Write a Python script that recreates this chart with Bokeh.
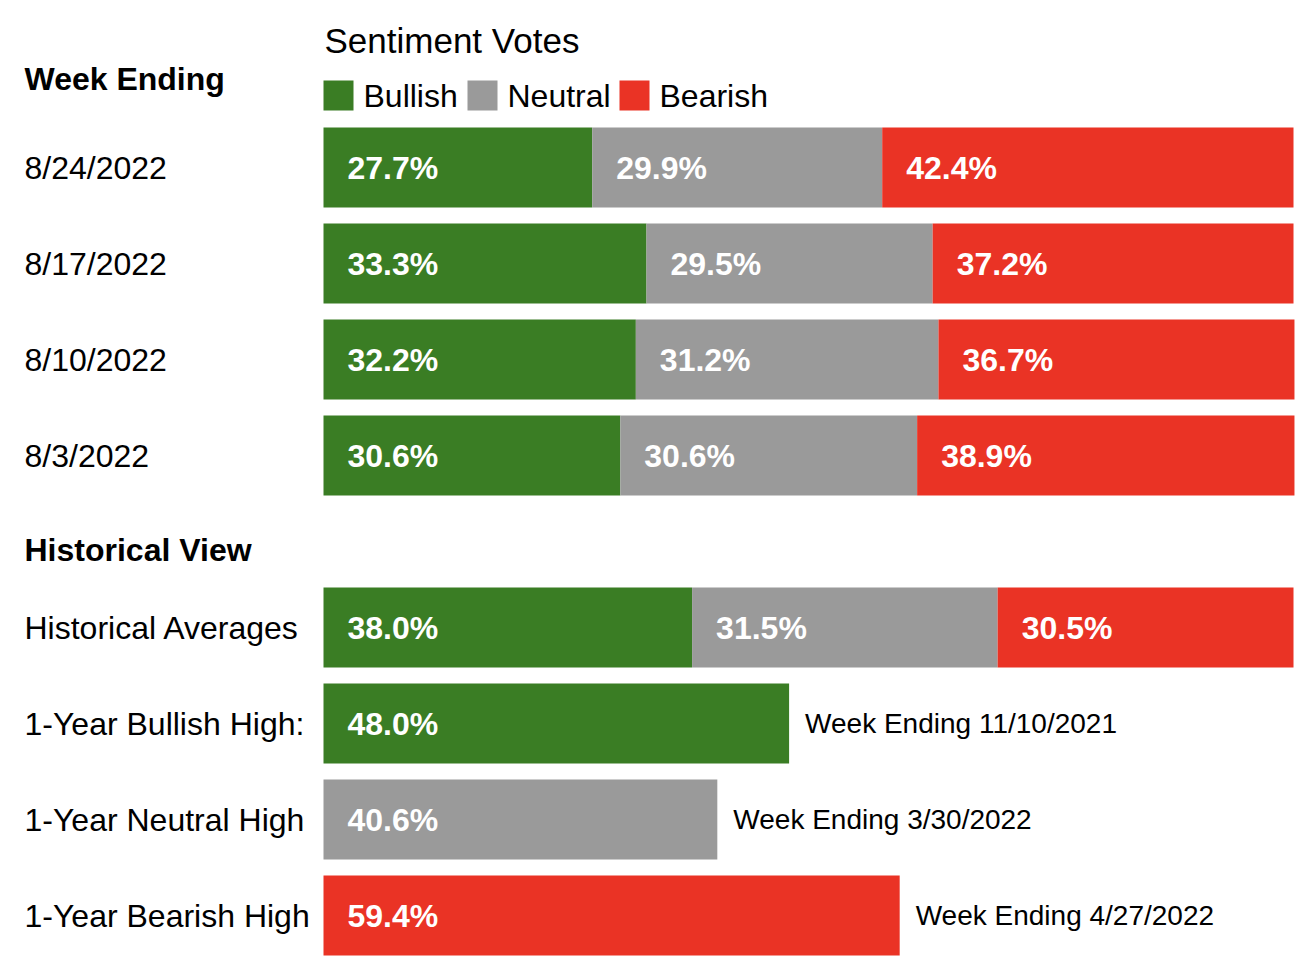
from bokeh.plotting import figure
from bokeh.models import Range1d, ColumnDataSource
from bokeh.core.properties import value
from bokeh.embed import file_html
from bokeh.resources import INLINE

# ---- data ----
weeks = ["8/24/2022", "8/17/2022", "8/10/2022", "8/3/2022"]
bullish = [27.7, 33.3, 32.2, 30.6]
neutral = [29.9, 29.5, 31.2, 30.6]
bearish = [42.4, 37.2, 36.7, 38.9]

hist_label = "Historical Averages"
hist_bull, hist_neut, hist_bear = 38.0, 31.5, 30.5

high_labels = ["1-Year Bullish High:", "1-Year Neutral High", "1-Year Bearish High"]
high_values = [48.0, 40.6, 59.4]
high_weeks = ["Week Ending 11/10/2021", "Week Ending 3/30/2022", "Week Ending 4/27/2022"]

series_names = ["Bullish", "Neutral", "Bearish"]
colors = ["#3a7d24", "#9a9a9a", "#ea3325"]

FONT = value("Liberation Sans")

# ---- layout (canvas pixels) ----
W, H = 1296, 964
PX_PER_PCT = 9.7
X0 = 323  # canvas x of 0%
x_start = -X0 / PX_PER_PCT
x_end = (W - X0) / PX_PER_PCT

def px(xc):
    return (xc - X0) / PX_PER_PCT

p = figure(width=W, height=H, output_backend="svg", toolbar_location=None,
           x_range=Range1d(x_start, x_end), y_range=Range1d(H, 0),
           x_axis_location=None, y_axis_location=None, min_border=0,
           outline_line_color=None, background_fill_color="white",
           border_fill_color="white")
p.grid.visible = False

BAR_H = 80
top_y = [167 + 96 * i for i in range(len(weeks))]
hist_y = [627 + 96 * i for i in range(1 + len(high_labels))]
VAL_SIZE = "32px"

# stacked weekly bars
lefts = [[0] * len(weeks), bullish, [b + n for b, n in zip(bullish, neutral)]]
vals = [bullish, neutral, bearish]
for k in range(3):
    rights = [l + v for l, v in zip(lefts[k], vals[k])]
    src = ColumnDataSource(dict(y=top_y, left=lefts[k], right=rights,
                                lab=[f"{v:.1f}%" for v in vals[k]],
                                tx=[l + 24 / PX_PER_PCT for l in lefts[k]]))
    p.hbar(y="y", left="left", right="right", height=BAR_H, source=src,
           fill_color=colors[k], line_color=None)
    p.text(x="tx", y="y", text="lab", source=src, text_color="white",
           text_font=FONT, text_font_style="bold", text_font_size=VAL_SIZE,
           text_baseline="middle", text_align="left")

# historical averages stacked
h_vals = [hist_bull, hist_neut, hist_bear]
h_left = [0, hist_bull, hist_bull + hist_neut]
src = ColumnDataSource(dict(y=[hist_y[0]] * 3, left=h_left,
                            right=[l + v for l, v in zip(h_left, h_vals)],
                            c=colors, lab=[f"{v:.1f}%" for v in h_vals],
                            tx=[l + 24 / PX_PER_PCT for l in h_left]))
p.hbar(y="y", left="left", right="right", height=BAR_H, source=src,
       fill_color="c", line_color=None)
p.text(x="tx", y="y", text="lab", source=src, text_color="white",
       text_font=FONT, text_font_style="bold", text_font_size=VAL_SIZE,
       text_baseline="middle", text_align="left")

# 1-year highs
src = ColumnDataSource(dict(y=hist_y[1:], right=high_values, c=colors,
                            lab=[f"{v:.1f}%" for v in high_values],
                            tx=[24 / PX_PER_PCT] * 3,
                            wx=[v + 16 / PX_PER_PCT for v in high_values],
                            wk=high_weeks))
p.hbar(y="y", left=0, right="right", height=BAR_H, source=src,
       fill_color="c", line_color=None)
p.text(x="tx", y="y", text="lab", source=src, text_color="white",
       text_font=FONT, text_font_style="bold", text_font_size=VAL_SIZE,
       text_baseline="middle", text_align="left")
p.text(x="wx", y="y", text="wk", source=src, text_color="black",
       text_font=FONT, text_font_size="28px",
       text_baseline="middle", text_align="left")

# left labels
lab_src = ColumnDataSource(dict(x=[px(24)] * 8,
                                y=top_y + hist_y,
                                t=weeks + [hist_label] + high_labels))
p.text(x="x", y="y", text="t", source=lab_src, text_color="black",
       text_font=FONT, text_font_size="32px", text_baseline="middle",
       text_align="left")

# headings
p.text(x=[px(24), px(24)], y=[78, 549], text=["Week Ending", "Historical View"],
       text_color="black", text_font=FONT, text_font_style="bold",
       text_font_size="32px", text_baseline="middle", text_align="left")
p.text(x=[px(324)], y=[40], text=["Sentiment Votes"], text_color="black",
       text_font=FONT, text_font_size="35px", text_baseline="middle",
       text_align="left")

# legend
sq_x = [px(323 + 15), px(467 + 15), px(619 + 15)]
p.rect(x=sq_x, y=[95] * 3, width=30 / PX_PER_PCT, height=30,
       fill_color=colors, line_color=None)
p.text(x=[px(363), px(507), px(659)], y=[95] * 3, text=series_names,
       text_color="black", text_font=FONT, text_font_size="32px",
       text_baseline="middle", text_align="left")

open("out.html", "w").write(file_html(p, INLINE))
